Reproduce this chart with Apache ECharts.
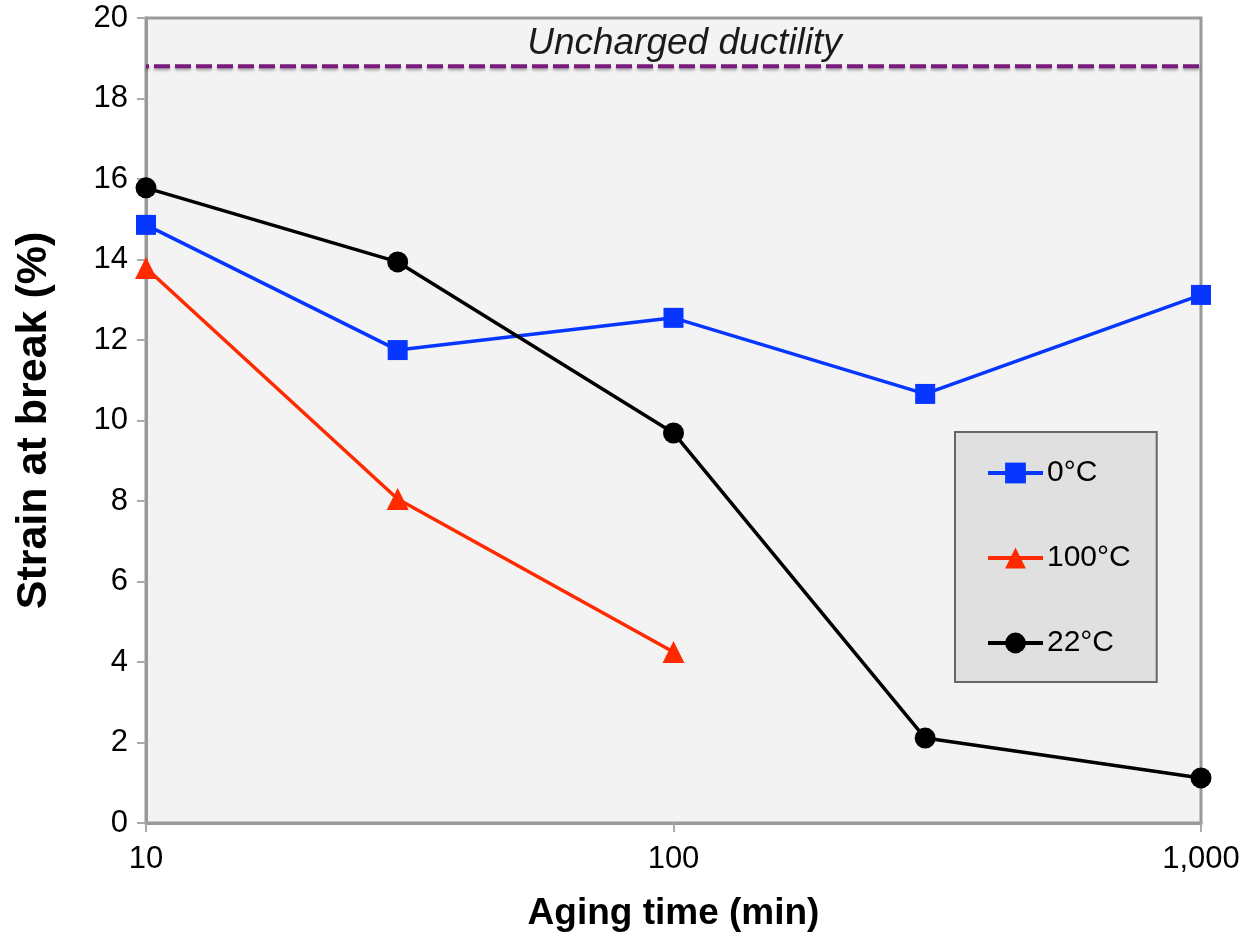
<!DOCTYPE html>
<html>
<head>
<meta charset="utf-8">
<script src="https://cdn.jsdelivr.net/npm/echarts@6/dist/echarts.min.js"></script>
<style>
  html, body { margin: 0; padding: 0; background: #fff; }
  #chart { width: 1247px; height: 938px; }
</style>
</head>
<body>
<div id="chart"></div>
<script>
// Aging times (min) and strain at break (%) per charging temperature
const agingTimes = [10, 30, 100, 300, 1000];
const strain0C   = [14.86, 11.75, 12.55, 10.66, 13.12];
const strain100C = [13.79, 8.05, 4.25];
const strain22C  = [15.78, 13.94, 9.69, 2.11, 1.12];
const unchargedDuctility = 18.8;
const seriesNames = ['0°C', '100°C', '22°C'];

const pairs = (xs, ys) => ys.map((y, i) => [xs[i], y]);

const chart = echarts.init(document.getElementById('chart'));
const font = 'Liberation Sans, Arial, sans-serif';

chart.setOption({
  animation: false,
  textStyle: { fontFamily: font },
  grid: {
    left: 146, right: 46, top: 18, bottom: 115,
    show: true, backgroundColor: '#f3f3f3', borderColor: '#999', borderWidth: 3
  },
  xAxis: {
    type: 'log', logBase: 10, min: 10, max: 1000,
    name: 'Aging time (min)', nameLocation: 'middle', nameGap: 72,
    nameTextStyle: { fontSize: 37, fontWeight: 'bold', color: '#000', fontFamily: font },
    axisLine: { lineStyle: { color: '#999', width: 3 } },
    axisTick: { show: true, length: 9, lineStyle: { color: '#aaa', width: 2 } },
    minorTick: { show: false },
    splitLine: { show: false },
    axisLabel: {
      fontSize: 31, color: '#000', margin: 21, fontFamily: font,
      formatter: v => Number(v).toLocaleString('en-US')
    }
  },
  yAxis: {
    type: 'value', min: 0, max: 20, interval: 2,
    name: 'Strain at break (%)', nameLocation: 'middle', nameGap: 90,
    nameTextStyle: { fontSize: 43, fontWeight: 'bold', color: '#000', fontFamily: font },
    axisLine: { show: true, lineStyle: { color: '#999', width: 3 } },
    axisTick: { show: true, length: 9, lineStyle: { color: '#aaa', width: 2 } },
    splitLine: { show: false },
    axisLabel: { fontSize: 31, color: '#000', margin: 18, fontFamily: font }
  },
  legend: {
    orient: 'vertical', left: 955, top: 432,
    data: seriesNames,
    backgroundColor: '#e0e0e0', borderColor: '#666', borderWidth: 2,
    padding: [26, 26, 24, 31],
    itemWidth: 55, itemHeight: 26, itemGap: 55,
    lineStyle: { width: 4 },
    textStyle: { fontSize: 30, color: '#000', fontFamily: font, padding: [0, 0, 0, -1] }
  },
  series: [
    {
      name: seriesNames[0], type: 'line', data: pairs(agingTimes, strain0C),
      symbol: 'rect', symbolSize: 20, z: 3,
      lineStyle: { color: '#0636ff', width: 3.5 }, itemStyle: { color: '#0636ff' }
    },
    {
      name: seriesNames[1], type: 'line', data: pairs(agingTimes, strain100C),
      symbol: 'triangle', symbolSize: 22, z: 3,
      lineStyle: { color: '#ff2a00', width: 3.5 }, itemStyle: { color: '#ff2a00' }
    },
    {
      name: seriesNames[2], type: 'line', data: pairs(agingTimes, strain22C),
      symbol: 'circle', symbolSize: 21, z: 3,
      lineStyle: { color: '#000', width: 3.5 }, itemStyle: { color: '#000' }
    },
    {
      name: 'Uncharged ductility', type: 'line', silent: true,
      data: [[agingTimes[0], unchargedDuctility], [agingTimes[agingTimes.length - 1], unchargedDuctility]],
      symbol: 'none', z: 2,
      lineStyle: {
        color: '#7a1a7c', width: 4, type: [16, 5], dashOffset: -8,
        shadowColor: 'rgba(0,0,0,0.35)', shadowBlur: 3, shadowOffsetY: 2
      },
      markPoint: {
        symbol: 'circle', symbolSize: 1,
        itemStyle: { color: 'transparent' },
        data: [{ coord: [100, unchargedDuctility] }],
        label: {
          show: true, position: 'inside', formatter: 'Uncharged ductility', offset: [11, -23],
          fontSize: 37, fontStyle: 'italic', color: '#1a1a1a', fontFamily: font
        }
      }
    }
  ]
});
</script>
</body>
</html>
